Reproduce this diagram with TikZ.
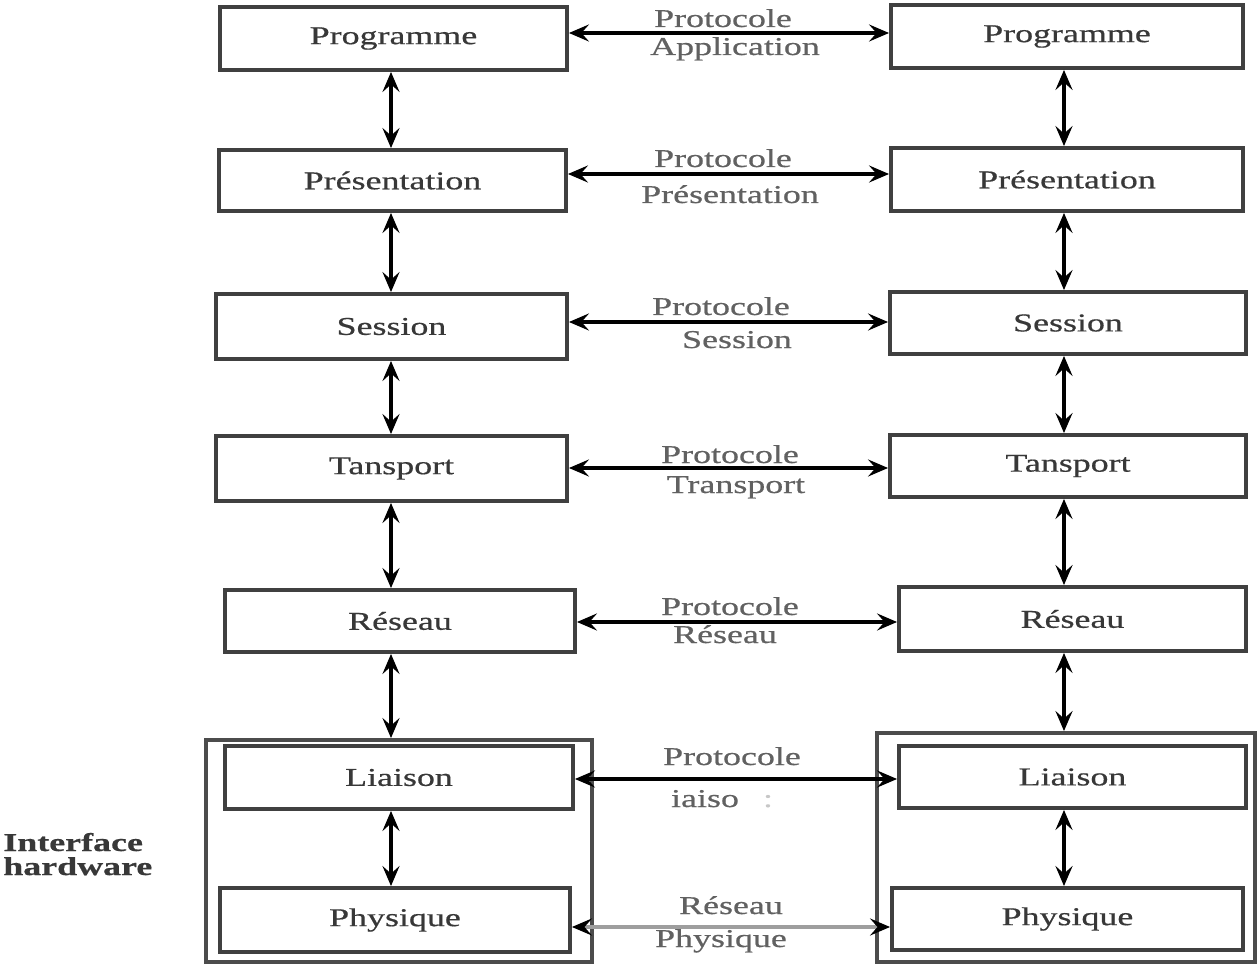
\documentclass[tikz,border=0pt]{standalone}
\usepackage{fontspec}
\setmainfont{Liberation Serif}[FakeStretch=1.4,FakeBold=0.6]
\usetikzlibrary{arrows.meta}
\begin{document}
\begin{tikzpicture}[x=0.02cm,y=-0.02cm,
  sz/.style 2 args={minimum width=#1*0.02cm, minimum height=#2*0.02cm},
  box/.style={draw=black!75, line width=2.2pt, rectangle, inner sep=0pt,
    font=\fontsize{14.6}{17}\selectfont, text=black!78},
  outer/.style={draw=black!70, line width=2.2pt, rectangle, inner sep=0pt},
  lbl/.style={font=\fontsize{14.6}{17}\selectfont, text=black!62, inner sep=0pt, anchor=base},
  dbl/.style={line width=2.2pt, draw=black, {Stealth[length=0.4cm,width=0.34cm,inset=0.15cm]}-{Stealth[length=0.4cm,width=0.34cm,inset=0.15cm]}},
  dblgray/.style={line width=2.4pt, draw=black!38, {Stealth[length=0.4cm,width=0.34cm,inset=0.15cm,color=black]}-{Stealth[length=0.4cm,width=0.34cm,inset=0.15cm,color=black]}}
]
\useasboundingbox (0,0) rectangle (1258,966);

% outer boxes
\node[outer, sz={386}{222}] (OL) at (399,851) {};
\node[outer, sz={378}{229}] (OR) at (1066,847.5) {};

% left column
\node[box, sz={347}{63}] (PL1) at (393.5,38.5) {Programme};
\node[box, sz={347}{61}] (PL2) at (392.5,180.5) {Présentation};
\node[box, sz={351}{65}] (PL3) at (391.5,326.5) {Session};
\node[box, sz={351}{65}] (PL4) at (391.5,468.5) {Tansport};
\node[box, sz={350}{62}] (PL5) at (400,621) {Réseau};
\node[box, sz={348}{63}] (PL6) at (399,777.5) {Liaison};
\node[box, sz={350}{64}] (PL7) at (395,920) {Physique};

% right column
\node[box, sz={352}{63}] (PR1) at (1067,36.5) {Programme};
\node[box, sz={352}{63}] (PR2) at (1067,179.5) {Présentation};
\node[box, sz={356}{62}] (PR3) at (1068,323) {Session};
\node[box, sz={356}{62}] (PR4) at (1068,466) {Tansport};
\node[box, sz={347}{64}] (PR5) at (1072.5,619) {Réseau};
\node[box, sz={347}{62}] (PR6) at (1072.5,777) {Liaison};
\node[box, sz={351}{62}] (PR7) at (1067.5,919) {Physique};

% helper coordinates
\coordinate (vL) at (391,0);
\coordinate (vR) at (1064,0);
\coordinate (h1) at (0,33);
\coordinate (h2) at (0,174);
\coordinate (h3) at (0,322);
\coordinate (h4) at (0,468);
\coordinate (h5) at (0,622);
\coordinate (h6) at (0,779);
\coordinate (h7) at (0,927);

% vertical arrows left
\draw[dbl] (PL1.south -| vL) -- (PL2.north -| vL);
\draw[dbl] (PL2.south -| vL) -- (PL3.north -| vL);
\draw[dbl] (PL3.south -| vL) -- (PL4.north -| vL);
\draw[dbl] (PL4.south -| vL) -- (PL5.north -| vL);
\draw[dbl] (PL5.south -| vL) -- (OL.north -| vL);
\draw[dbl] (PL6.south -| vL) -- (PL7.north -| vL);

% vertical arrows right
\draw[dbl] (PR1.south -| vR) -- (PR2.north -| vR);
\draw[dbl] (PR2.south -| vR) -- (PR3.north -| vR);
\draw[dbl] (PR3.south -| vR) -- (PR4.north -| vR);
\draw[dbl] (PR4.south -| vR) -- (PR5.north -| vR);
\draw[dbl] (PR5.south -| vR) -- (OR.north -| vR);
\draw[dbl] (PR6.south -| vR) -- (PR7.north -| vR);

% horizontal arrows
\draw[dbl] (PL1.east |- h1) -- (PR1.west |- h1);
\draw[dbl] (PL2.east |- h2) -- (PR2.west |- h2);
\draw[dbl] (PL3.east |- h3) -- (PR3.west |- h3);
\draw[dbl] (PL4.east |- h4) -- (PR4.west |- h4);
\draw[dbl] (PL5.east |- h5) -- (PR5.west |- h5);
\draw[dbl] (PL6.east |- h6) -- (PR6.west |- h6);
\draw[dblgray] (PL7.east |- h7) -- (PR7.west |- h7);

% labels
\node[lbl] (a1) at (723,27) {Protocole};
\node[lbl] (a2) at (735,55) {Application};
\node[lbl] (b1) at (723,167) {Protocole};
\node[lbl] (b2) at (730,203) {Présentation};
\node[lbl] (c1) at (721,315) {Protocole};
\node[lbl] (c2) at (737,348) {Session};
\node[lbl] (d1) at (730,463) {Protocole};
\node[lbl] (d2) at (736,493) {Transport};
\node[lbl] (e1) at (730,615) {Protocole};
\node[lbl] (e2) at (725,643) {Réseau};
\node[lbl] (f1) at (732,765) {Protocole};
\node[lbl] (f2) at (705,807) {iaiso};
\node[lbl, text=black!22] (f3) at (768,807) {:};
\node[lbl] (g1) at (731,914) {Réseau};
\node[lbl] (g2) at (721,947) {Physique};

\node[font=\fontsize{14.6}{17}\selectfont\bfseries, text=black!78, inner sep=0pt, anchor=base west] (i1) at (3,851) {Interface};
\node[font=\fontsize{14.6}{17}\selectfont\bfseries, text=black!78, inner sep=0pt, anchor=base west] (i2) at (3,875) {hardware};
\end{tikzpicture}
\end{document}
